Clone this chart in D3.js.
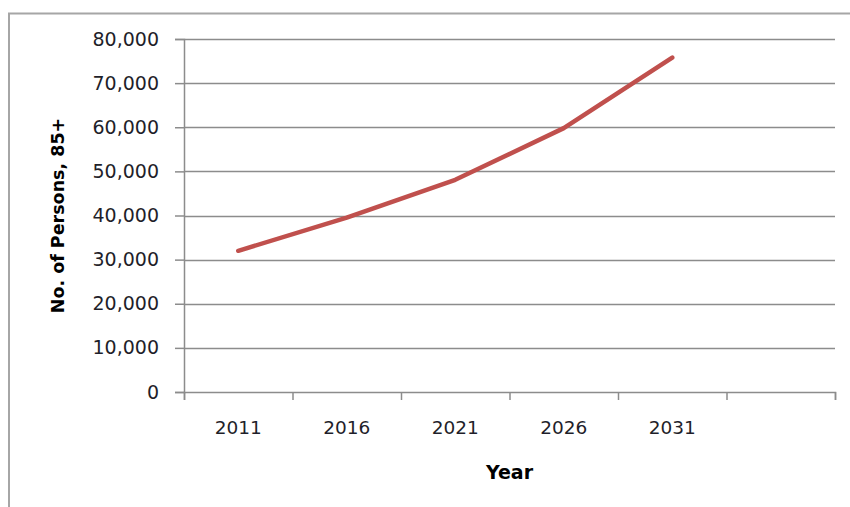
<!DOCTYPE html>
<html>
<head>
<meta charset="utf-8">
<script src="https://cdn.jsdelivr.net/npm/d3@7"></script>
<style>
  body { margin: 0; background: #fff; }
  svg { display: block; font-family: "DejaVu Sans", Verdana, sans-serif; }
</style>
</head>
<body>
<div id="chart"></div>
<script>
var years = ["2011", "2016", "2021", "2026", "2031", ""]
var persons85 = [32000, 39500, 48100, 59800, 75800]
var yTicks = [0, 10000, 20000, 30000, 40000, 50000, 60000, 70000, 80000]

var W = 850, H = 507
var m = {left: 184, right: 15, top: 39, bottom: 115}

var svg = d3.select("#chart").append("svg").attr("width", W).attr("height", H)

// outer frame of the embedded chart (cut off at right and bottom)
svg.append("path")
  .attr("d", "M9," + H + "V13.5H" + W)
  .attr("fill", "none").attr("stroke", "#a6a6a6").attr("stroke-width", 2)

var x = d3.scaleBand().domain(years.map(function(d, i) { return i })).range([m.left, W - m.right])
var y = d3.scaleLinear().domain([0, 80000]).range([H - m.bottom, m.top])

// gridlines
svg.append("g").selectAll("line").data(yTicks.slice(1)).enter().append("line")
  .attr("x1", m.left).attr("x2", W - m.right)
  .attr("y1", function(d) { return Math.round(y(d)) + 0.5 })
  .attr("y2", function(d) { return Math.round(y(d)) + 0.5 })
  .attr("stroke", "#8c8c8c").attr("stroke-width", 1.3)

var yAxis = d3.axisLeft(y).tickValues(yTicks).tickSize(9).tickPadding(16).tickFormat(d3.format(","))
var gy = svg.append("g").attr("transform", "translate(" + m.left + ",0)").call(yAxis)
  .attr("font-family", "DejaVu Sans, Verdana, sans-serif").attr("font-size", 19)
gy.selectAll("text").attr("fill", "#1f1f2a")

var xAxis = d3.axisBottom(d3.scaleLinear().domain([0, years.length]).range([m.left, W - m.right]))
  .ticks(years.length).tickSize(8).tickFormat("")
var gx = svg.append("g").attr("transform", "translate(0," + (H - m.bottom) + ")").call(xAxis)

svg.selectAll(".domain").attr("stroke", "#8c8c8c").attr("stroke-width", 1.5)
svg.selectAll(".tick line").attr("stroke", "#8c8c8c").attr("stroke-width", 1.5)

svg.append("g").selectAll("text").data(years).enter().append("text")
  .attr("x", function(d, i) { return x(i) + x.bandwidth() / 2 })
  .attr("y", H - m.bottom + 42)
  .attr("text-anchor", "middle")
  .attr("font-size", 18.5).attr("fill", "#1f1f2a")
  .text(function(d) { return d })

var line = d3.line()
  .x(function(d, i) { return x(i) + x.bandwidth() / 2 })
  .y(function(d) { return y(d) })

svg.append("path").datum(persons85)
  .attr("d", line)
  .attr("fill", "none").attr("stroke", "#c0504d").attr("stroke-width", 4.5)
  .attr("stroke-linecap", "round").attr("stroke-linejoin", "round")

svg.append("text")
  .attr("x", (m.left + W - m.right) / 2).attr("y", 479)
  .attr("text-anchor", "middle").attr("font-size", 19).attr("font-weight", "bold")
  .text("Year")

svg.append("text")
  .attr("transform", "translate(64," + ((m.top + H - m.bottom) / 2) + ") rotate(-90)")
  .attr("text-anchor", "middle").attr("font-size", 17.5).attr("font-weight", "bold")
  .text("No. of Persons, 85+")
</script>
</body>
</html>
